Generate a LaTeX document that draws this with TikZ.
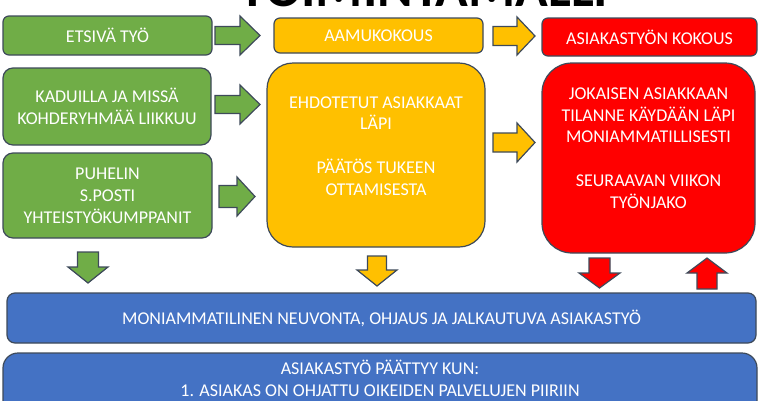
\documentclass[tikz,border=0pt]{standalone}
\usepackage{fontspec}
\setmainfont{Carlito}
\usepackage{tikz}
\definecolor{grn}{HTML}{70AD47}
\definecolor{ylw}{HTML}{FFC000}
\definecolor{rd}{HTML}{FF0000}
\definecolor{blu}{HTML}{4472C4}
\definecolor{edge}{HTML}{3E4A5A}
\newcommand{\boxfont}{\fontsize{18}{21.8}\selectfont}
\tikzset{
  box/.style={draw=edge, line width=1.2pt, text=white, font=\boxfont, align=center, inner sep=0pt},
  gbox/.style={box, fill=grn},
  ybox/.style={box, fill=ylw},
  rbox/.style={box, fill=rd},
  bbox/.style={box, fill=blu},
  lab/.style={text=white, font=\boxfont, align=center, inner sep=0pt},
  heading/.style={text=black, font=\fontsize{54}{54}\selectfont\bfseries, inner sep=0pt},
  garr/.style={draw=edge, fill=grn, line width=1.2pt},
  yarr/.style={draw=edge, fill=ylw, line width=1.2pt},
  rarr/.style={draw=edge, fill=rd, line width=1.2pt},
  pics/blockarrow/.style n args={4}{code={
    \path[pic actions] (-#1/2,-#3/2) -- ({#1/2-#4},-#3/2) -- ({#1/2-#4},-#2/2)
      -- (#1/2,0) -- ({#1/2-#4},#2/2) -- ({#1/2-#4},#3/2) -- (-#1/2,#3/2) -- cycle;
  }},
}

\begin{document}
\begin{tikzpicture}[x=1pt, y=-1pt]
  \useasboundingbox (0,0) rectangle (760,400);
  \clip (0,0) rectangle (760,400);
  \fill[white] (0,0) rectangle (760,400);
  \node[heading, anchor=base] (title) at (424,6) {TOIMINTAMALLI};

  % left column
  \node[gbox, rounded corners=6pt, minimum width=209pt, minimum height=39pt] (etsiva) at (107.5,35.5) {ETSIVÄ TYÖ};
  \node[gbox, rounded corners=10pt, minimum width=208pt, minimum height=77pt] (kaduilla) at (107,106.5) {KADUILLA JA MISSÄ\\KOHDERYHMÄÄ LIIKKUU};
  \node[gbox, rounded corners=10pt, minimum width=209pt, minimum height=85pt] (puhelin) at (107.5,195.5) {PUHELIN\\S.POSTI\\YHTEISTYÖKUMPPANIT};

  % middle column
  \node[ybox, rounded corners=6pt, minimum width=209pt, minimum height=35pt] (aamu) at (378.5,35.5) {AAMUKOKOUS};
  \node[ybox, rounded corners=26pt, minimum width=218pt, minimum height=184pt] (ehdot) at (376,155) {};
  \node[lab] (ehdotlab) at (376,146) {EHDOTETUT ASIAKKAAT\\LÄPI\\[21.8pt]PÄÄTÖS TUKEEN\\OTTAMISESTA};

  % right column
  \node[rbox, rounded corners=6pt, minimum width=215pt, minimum height=38pt] (kokous) at (649.5,37) {ASIAKASTYÖN KOKOUS};
  \node[rbox, rounded corners=30pt, minimum width=213pt, minimum height=190pt] (jokaisen) at (648.5,158) {};
  \node[lab] (jokaisenlab) at (648.5,148) {JOKAISEN ASIAKKAAN\\TILANNE KÄYDÄÄN LÄPI\\MONIAMMATILLISESTI\\[21.8pt]SEURAAVAN VIIKON\\TYÖNJAKO};

  % bottom bars
  \node[bbox, rounded corners=8pt, minimum width=749pt, minimum height=50pt] (neuvonta) at (381.5,318) {MONIAMMATILINEN NEUVONTA, OHJAUS JA JALKAUTUVA ASIAKASTYÖ};
  \node[bbox, rounded corners=15pt, minimum width=754pt, minimum height=90pt] (paattyy) at (380,398) {};
  \node[lab] (paattyylab) at (380,378) {ASIAKASTYÖ PÄÄTTYY KUN:\\1. ASIAKAS ON OHJATTU OIKEIDEN PALVELUJEN PIIRIIN};

  % block arrows
  \pic[garr] at (237.5,35.5) {blockarrow={45}{39}{18}{20}};
  \pic[garr] at (237.5,104.5) {blockarrow={45}{39}{18}{20}};
  \pic[garr] at (237,196.5) {blockarrow={36}{39}{22}{18}};
  \pic[yarr] at (514,36) {blockarrow={42}{38}{19}{18}};
  \pic[yarr] at (514,142.5) {blockarrow={42}{39}{19}{18}};
  \pic[garr, rotate=-90] at (88,267.5) {blockarrow={31}{40}{21}{16}};
  \pic[yarr, rotate=-90] at (377,271) {blockarrow={30}{40}{19}{16}};
  \pic[rarr, rotate=-90] at (599.5,273) {blockarrow={30}{41}{21}{15}};
  \pic[rarr, rotate=90] at (707,273.5) {blockarrow={31}{40}{20}{15}};
\end{tikzpicture}
\end{document}
